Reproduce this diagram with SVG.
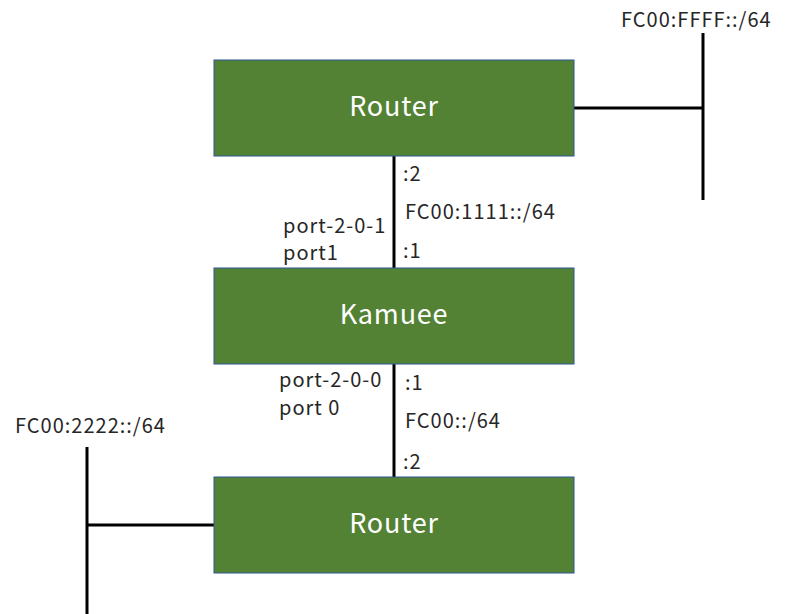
<svg xmlns="http://www.w3.org/2000/svg" width="800" height="614" viewBox="0 0 800 614">
<style>
.box{fill:#548235;stroke:#2F5597;stroke-width:1}
.nt{fill:#fff;font-family:"Noto Sans CJK JP","Noto Sans",sans-serif;font-size:27px;letter-spacing:0.8px;text-anchor:middle}
.lb{fill:#262626;font-family:"Noto Sans CJK JP","Noto Sans",sans-serif;font-size:20px;letter-spacing:1px}
.ln{stroke:#000;stroke-width:3;fill:none}
</style>
<rect width="800" height="614" fill="#fff"/>
<g id="connectors">
<line class="ln" x1="394" y1="156" x2="394" y2="268"/>
<line class="ln" x1="394" y1="364" x2="394" y2="477"/>
<line class="ln" x1="574" y1="108" x2="703" y2="108"/>
<line class="ln" x1="703" y1="33" x2="703" y2="200"/>
<line class="ln" x1="87" y1="525" x2="214" y2="525"/>
<line class="ln" x1="87" y1="447" x2="87" y2="614"/>
</g>
<g id="router-top">
<rect class="box" x="214" y="60" width="360" height="96"/>
<text class="nt" x="394" y="116">Router</text>
</g>
<g id="kamuee">
<rect class="box" x="214" y="268" width="360" height="96"/>
<text class="nt" x="394" y="324">Kamuee</text>
</g>
<g id="router-bottom">
<rect class="box" x="214" y="477" width="360" height="96"/>
<text class="nt" x="394" y="533">Router</text>
</g>
<g id="labels">
<text class="lb" x="621" y="27">FC00:FFFF::/64</text>
<text class="lb" x="403" y="181">:2</text>
<text class="lb" x="405" y="219">FC00:1111::/64</text>
<text class="lb" x="403" y="258">:1</text>
<text class="lb" x="283" y="233">port-2-0-1</text>
<text class="lb" x="283" y="260">port1</text>
<text class="lb" x="279" y="387">port-2-0-0</text>
<text class="lb" x="279" y="415">port 0</text>
<text class="lb" x="405" y="390">:1</text>
<text class="lb" x="405" y="428">FC00::/64</text>
<text class="lb" x="403" y="469">:2</text>
<text class="lb" x="15" y="433">FC00:2222::/64</text>
</g>
</svg>
